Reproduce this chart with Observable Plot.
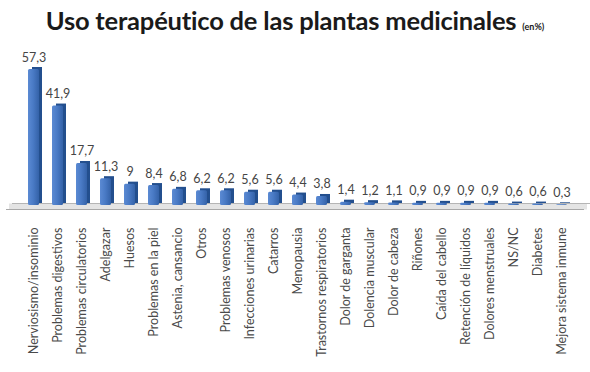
<!DOCTYPE html>
<html>
<head>
<meta charset="utf-8">
<script src="https://cdn.jsdelivr.net/npm/d3@7"></script>
<script src="https://cdn.jsdelivr.net/npm/@observablehq/plot@0.6"></script>
<style>
  html, body { margin: 0; padding: 0; background: #fff; }
  #wrap { width: 590px; height: 372px; position: relative; overflow: hidden; }
  #title { position: absolute; left: 0; top: 5px; width: 590px; text-align: center;
    font-family: Lato, "Open Sans", sans-serif; font-weight: bold; font-size: 25.5px; color: #1a1a1a; letter-spacing: -0.2px; }
  #title small { font-size: 9px; font-weight: bold; letter-spacing: 0; }
  #chart { position: absolute; left: 0; top: 40px; }
</style>
</head>
<body>
<div id="wrap">
  <div id="title">Uso terapéutico de las plantas medicinales <small>(en%)</small></div>
  <div id="chart"></div>
</div>
<script>
const categories = ["Nerviosismo/insominio", "Problemas digestivos", "Problemas circulatorios", "Adelgazar", "Huesos",
  "Problemas en la piel", "Astenia, cansancio", "Otros", "Problemas venosos", "Infecciones urinarias", "Catarros",
  "Menopausia", "Trastornos respiratorios", "Dolor de garganta", "Dolencia muscular", "Dolor de cabeza", "Riñones",
  "Caída del cabello", "Retención de líquidos", "Dolores menstruales", "NS/NC", "Diabetes", "Mejora sistema inmune"];
const values = [57.3, 41.9, 17.7, 11.3, 9, 8.4, 6.8, 6.2, 6.2, 5.6, 5.6, 4.4, 3.8, 1.4, 1.2, 1.1, 0.9, 0.9, 0.9, 0.9, 0.6, 0.6, 0.3];
const labels = ["57,3", "41,9", "17,7", "11,3", "9", "8,4", "6,8", "6,2", "6,2", "5,6", "5,6", "4,4", "3,8", "1,4", "1,2", "1,1", "0,9", "0,9", "0,9", "0,9", "0,6", "0,6", "0,3"];

const data = categories.map((c, i) => ({cat: c, v: values[i], label: labels[i]}));

const chart = Plot.plot({
  width: 590,
  height: 332,
  marginTop: 29,
  marginBottom: 167,
  marginLeft: 8,
  marginRight: 4,
  style: {fontFamily: "Lato, 'Open Sans', sans-serif", fontSize: "12.5px", color: "#4a4a4a", background: "transparent"},
  x: {domain: categories, padding: 0.55, label: null, tickSize: 0, tickRotate: -90, tickPadding: 22},
  y: {domain: [0, 57.3], axis: null},
  marks: [
    // floor
    Plot.ruleY([0], {stroke: "#e4e4e4", strokeWidth: 6, dx: 1, dy: 1}),
    Plot.ruleY([0], {stroke: "#b5b5b5", strokeWidth: 1, dy: -2, dx: 4}),
    Plot.ruleY([0], {stroke: "#a8a8a8", strokeWidth: 1, dy: 4, dx: -2}),
    // side face
    Plot.barY(data, {x: "cat", y: "v", fill: "#234f8e", dx: 3, dy: -2, insetLeft: 1}),
    // front face
    Plot.barY(data, {x: "cat", y: "v", fill: "url(#barGrad)", rx: 1.5}),
    Plot.text(data, {x: "cat", y: "v", text: "label", dy: -12, fill: "#454545", fontSize: 12.5})
  ]
});

const defs = d3.select(chart).insert("defs", ":first-child");
const g = defs.append("linearGradient").attr("id", "barGrad").attr("x1", 0).attr("x2", 1).attr("y1", 0).attr("y2", 0);
g.append("stop").attr("offset", "0%").attr("stop-color", "#5b8ad3");
g.append("stop").attr("offset", "45%").attr("stop-color", "#4a7bc6");
g.append("stop").attr("offset", "100%").attr("stop-color", "#3462a8");

document.getElementById("chart").appendChild(chart);
</script>
</body>
</html>
